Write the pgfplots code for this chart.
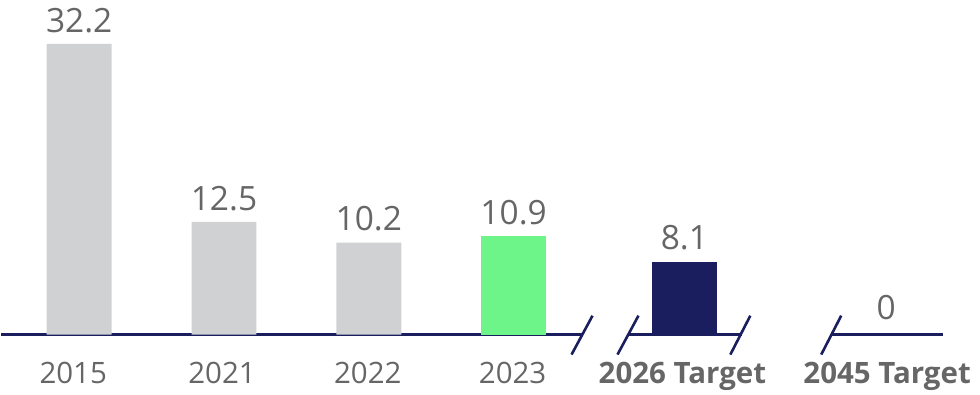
\documentclass[border=0pt]{standalone}
\usepackage{fontspec}
\setmainfont{Open Sans}
\usepackage{pgfplots}
\pgfplotsset{compat=1.18}
\definecolor{bargray}{HTML}{D0D1D3}
\definecolor{bargreen}{HTML}{6EF58A}
\definecolor{navy}{HTML}{1A1D5E}
\definecolor{txt}{HTML}{666666}
\pgfplotsset{
  valbar/.style={ybar, bar width=65pt, bar shift=0pt, draw=none,
    nodes near coords={\pgfmathprintnumber[fixed,precision=1]{\pgfplotspointmeta}},
    every node near coord/.append style={font=\fontsize{33.5}{38}\selectfont, text=txt, anchor=south, inner sep=0pt, yshift=11pt}},
  brk/.style={navy, line width=2.6pt, forget plot},
}
\begin{document}
\begin{tikzpicture}
\begin{axis}[
  scale only axis,
  width=980pt, height=395pt,
  xmin=0, xmax=980,
  ymin=-6.64, ymax=37.06,
  clip=false,
  axis line style={draw=none},
  major tick length=0pt,
  ytick=\empty,
  xtick={72,221,367,512,682,887},
  xticklabels={2015,2021,2022,2023,\textbf{2026 Target},\textbf{2045 Target}},
  xticklabel style={anchor=base, yshift=11pt, font=\fontsize{29.5}{33}\selectfont, text=txt},
  /pgf/number format/assume math mode=true,
]
% axis line segments with break marks
\addplot[brk] coordinates {(0,0) (581,0)};
\addplot[brk] coordinates {(571,-2.21) (592,2.10)};
\addplot[brk] coordinates {(628,0) (742,0)};
\addplot[brk] coordinates {(617,-2.21) (638,2.10)};
\addplot[brk] coordinates {(730,-2.21) (750,2.10)};
\addplot[brk] coordinates {(832,0) (943,0)};
\addplot[brk] coordinates {(821,-2.21) (841,2.10)};
% bars
\addplot[valbar, fill=bargray] coordinates {(78,32.2) (223,12.5) (368,10.2)};
\addplot[valbar, fill=bargreen] coordinates {(513,10.9)};
\addplot[valbar, fill=navy] coordinates {(684,8.1)};
\addplot[valbar, fill=none, every node near coord/.append style={yshift=4pt}] coordinates {(886,0)};
\end{axis}
\end{tikzpicture}
\end{document}
